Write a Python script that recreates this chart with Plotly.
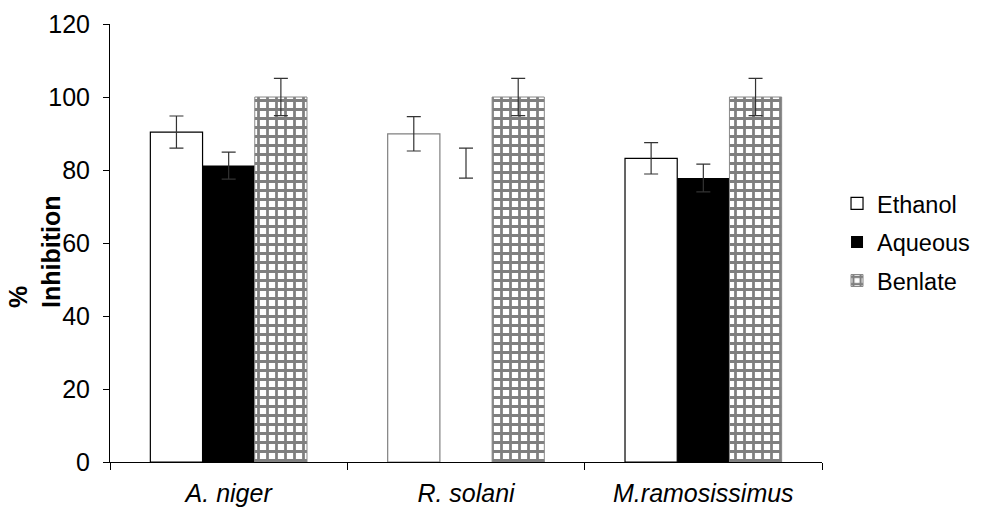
import plotly.graph_objects as go

categories = ["A. niger", "R. solani", "M.ramosissimus"]
ethanol = [90.4, 89.9, 83.2]
ethanol_err = [4.4, 4.7, 4.3]
aqueous = [81.2, 81.9, 77.8]
aqueous_err = [3.7, 4.1, 3.8]
benlate = [100, 100, 100]
benlate_err = [5.1, 5.1, 5.1]
yticks = [0, 20, 40, 60, 80, 100, 120]

font = "Liberation Sans, Arial, sans-serif"
xlabels = [f"<i>{c}</i>" for c in categories]

fig = go.Figure()
fig.add_trace(go.Bar(
    name="Ethanol", x=xlabels, y=ethanol,
    marker=dict(color="white", line=dict(color=["black", "#808080", "black"], width=1.2)),
    error_y=dict(type="data", array=ethanol_err, color="#333", thickness=1.2, width=7),
    legendgroup="e",
))
fig.add_trace(go.Bar(
    name="Aqueous", x=xlabels, y=aqueous,
    marker=dict(color=["black", "rgba(255,255,255,0)", "black"], line=dict(width=0)),
    error_y=dict(type="data", array=aqueous_err, color="#333", thickness=1.2, width=7),
    legendgroup="a",
))
fig.add_trace(go.Bar(
    name="Benlate", x=xlabels, y=benlate,
    marker=dict(color="white", line=dict(color="#888", width=1),
                pattern=dict(shape="+", fgcolor="black", bgcolor="white", size=9, solidity=0.52)),
    error_y=dict(type="data", array=benlate_err, color="#333", thickness=1.2, width=7),
    legendgroup="b",
))

fig.update_layout(
    width=981, height=518,
    margin=dict(l=110, r=159, t=24, b=56, autoexpand=False),
    paper_bgcolor="white", plot_bgcolor="white",
    barmode="group", bargap=0.34, bargroupgap=0,
    font=dict(family=font, size=25, color="black"),
    legend=dict(x=1.0211, y=0.502, xanchor="left", yanchor="middle",
                font=dict(size=23.5), tracegroupgap=5, bgcolor="rgba(0,0,0,0)",
                borderwidth=0),
    showlegend=True,
)
fig.update_xaxes(
    showline=True, linecolor="black", linewidth=1, automargin=False,
    ticks="outside", tickson="boundaries", ticklen=7, tickcolor="black",
    showgrid=False, tickfont=dict(size=25), ticklabelstandoff=9,
)
fig.update_yaxes(
    range=[0, 120], tickvals=yticks, showline=True, linecolor="black", linewidth=1,
    ticks="outside", ticklen=6, tickcolor="black", showgrid=False, zeroline=False,
    tickfont=dict(size=25), automargin=False, ticklabelstandoff=8,
)
fig.add_annotation(
    text="<b>%<br>Inhibition</b>", textangle=-90, xref="paper", yref="paper",
    x=-0.105, y=0.480, xanchor="center", yanchor="middle", showarrow=False,
    font=dict(size=25, family=font), align="left", borderpad=0,
)
fig.write_html(
    "out.html",
    config={"displayModeBar": False},
    post_script="document.body.style.margin='0';document.body.style.overflow='hidden';",
)
